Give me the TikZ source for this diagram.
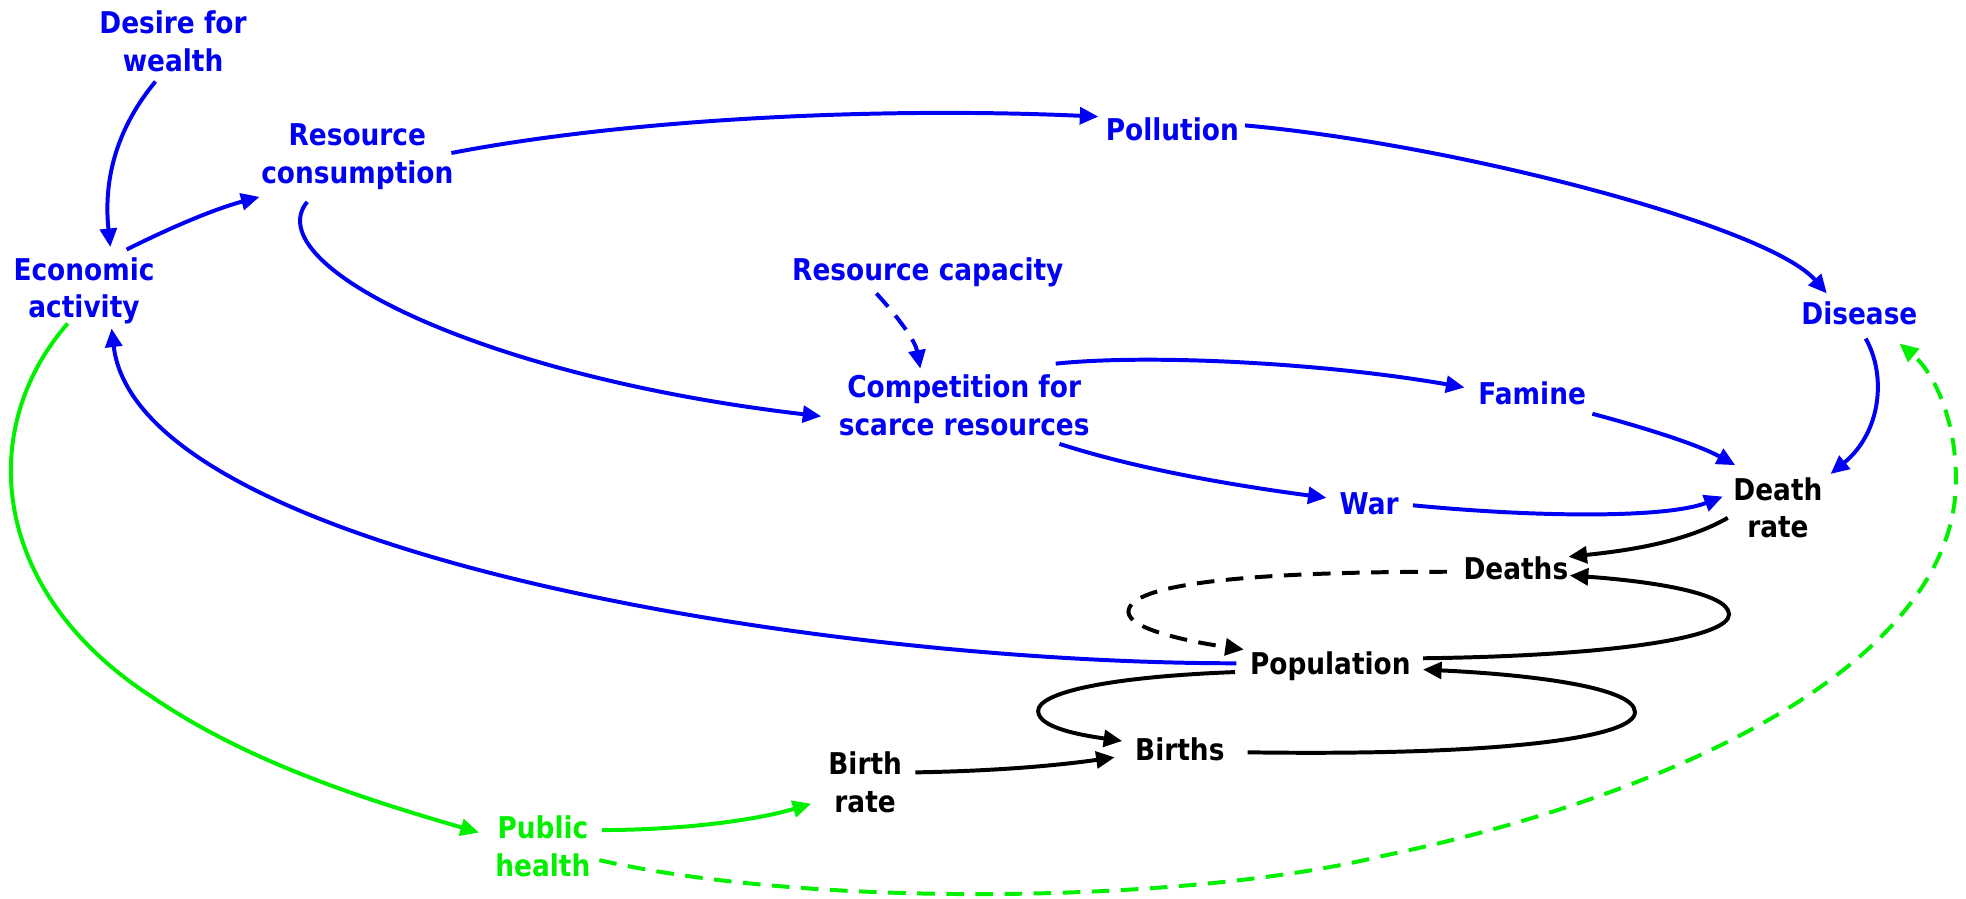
\documentclass[tikz,border=0pt]{standalone}
\usepackage{fontspec}
\usetikzlibrary{arrows.meta,calc}
\newfontfamily\lblfont{DejaVu Sans}[FakeStretch=0.88]
\definecolor{cblue}{RGB}{0,0,245}
\definecolor{cgreen}{RGB}{0,240,0}
\tikzset{
  lbl/.style={font=\lblfont\bfseries\fontsize{6.8}{8.55}\selectfont, align=center, inner sep=0pt},
  conn/.style={line width=0.9pt, -{Triangle[length=4.2pt,width=3.8pt]}},
  dconn/.style={conn, dash pattern=on 4pt off 2.6pt},
}
\begin{document}
\begin{tikzpicture}[x=0.01cm, y=-0.01cm]
\useasboundingbox (0,0) rectangle (1568,717);

% variables
\node[lbl, cblue] (desire)     at (138,33)   {Desire for\\wealth};
\node[lbl, cblue] (econ)       at (67,232)   {Economic\\activity};
\node[lbl, cblue] (rescons)    at (285,125)  {Resource\\consumption};
\node[lbl, cblue] (pollution)  at (935,103)  {Pollution};
\node[lbl, cblue] (rescap)     at (740,217)  {Resource capacity};
\node[lbl, cblue] (comp)       at (769,323)  {Competition for\\scarce resources};
\node[lbl, cblue] (famine)     at (1222,314) {Famine};
\node[lbl, cblue] (disease)    at (1483,250) {Disease};
\node[lbl, cblue] (war)        at (1092,402) {War};
\node[lbl]        (deathrate)  at (1418,405) {Death\\rate};
\node[lbl]        (deaths)     at (1209,453) {Deaths};
\node[lbl]        (population) at (1061,531) {Population};
\node[lbl]        (births)     at (941,598)  {Births};
\node[lbl]        (birthrate)  at (690,624)  {Birth\\rate};
\node[lbl, cgreen] (public)    at (433,675)  {Public\\health};

% economic links
\draw[conn, cblue] ($(desire.center)+(-14,32)$) .. controls (95,100) and (82,140) .. ($(econ.center)+(21,-35)$);
\draw[conn, cblue] ($(econ.center)+(34,-33)$) .. controls (135,182) and (170,167) .. ($(rescons.center)+(-78,32)$);
\draw[conn, cblue] ($(rescons.center)+(75,-3)$) .. controls (500,95) and (700,85) .. ($(pollution.center)+(-59,-10)$);
\draw[conn, cblue] ($(pollution.center)+(58,-3)$) .. controls (1160,115) and (1410,180) .. ($(disease.center)+(-26,-16)$);
\draw[conn, cblue] ($(rescons.center)+(-40,36)$) .. controls (205,210) and (380,300) .. ($(comp.center)+(-114,9)$);
\draw[dconn, cblue] ($(rescap.center)+(-41,17)$) .. controls (718,255) and (730,272) .. ($(comp.center)+(-35,-29)$);
\draw[conn, cblue] ($(comp.center)+(73,-33)$) .. controls (920,282) and (1060,290) .. ($(famine.center)+(-54,-5)$);
\draw[conn, cblue] ($(comp.center)+(76,31)$) .. controls (910,375) and (990,388) .. ($(war.center)+(-34,-5)$);
\draw[conn, cblue] ($(famine.center)+(48,16)$) .. controls (1315,342) and (1355,355) .. ($(deathrate.center)+(-34,-34)$);
\draw[conn, cblue] ($(war.center)+(35,1)$) .. controls (1230,413) and (1330,413) .. ($(deathrate.center)+(-44,-9)$);
\draw[conn, cblue] ($(disease.center)+(5,20)$) .. controls (1505,300) and (1500,345) .. ($(deathrate.center)+(42,-27)$);
\draw[conn, cblue] ($(population.center)+(-75,-2)$) .. controls (650,529) and (110,440) .. ($(econ.center)+(22,30)$);

% population stock and flows
\draw[conn] ($(deathrate.center)+(-40,8)$) .. controls (1345,432) and (1300,439) .. ($(deaths.center)+(42,-9)$);
\draw[dconn] ($(deaths.center)+(-55,3)$) .. controls (1000,456) and (900,465) .. (900,488)
  .. controls (900,502) and (950,512) .. ($(population.center)+(-69,-13)$);
\draw[conn] ($(population.center)+(74,-6)$) .. controls (1290,523) and (1379,508) .. (1379,490)
  .. controls (1379,472) and (1310,463) .. ($(deaths.center)+(43,6)$);
\draw[conn] ($(population.center)+(-76,5)$) .. controls (880,540) and (828,553) .. (828,567)
  .. controls (828,580) and (860,586) .. ($(births.center)+(-46,-7)$);
\draw[conn] ($(births.center)+(54,2)$) .. controls (1200,603) and (1304,588) .. (1304,568)
  .. controls (1304,548) and (1220,538) .. ($(population.center)+(74,3)$);
\draw[conn] ($(birthrate.center)+(40,-8)$) .. controls (790,615) and (840,611) .. ($(births.center)+(-52,6)$);

% public health
\draw[conn, cgreen] ($(econ.center)+(-13,26)$) .. controls (-18,340) and (-10,470) .. (120,555)
  .. controls (200,610) and (300,640) .. ($(public.center)+(-51,-11)$);
\draw[conn, cgreen] ($(public.center)+(47,-13)$) .. controls (540,662) and (600,655) .. ($(birthrate.center)+(-43,17)$);
\draw[dconn, cgreen] ($(public.center)+(45,11)$) .. controls (650,725) and (950,720) .. (1101,683)
  .. controls (1351,631) and (1560,523) .. (1560,383)
  .. controls (1560,330) and (1540,295) .. ($(disease.center)+(32,24)$);
\end{tikzpicture}
\end{document}
